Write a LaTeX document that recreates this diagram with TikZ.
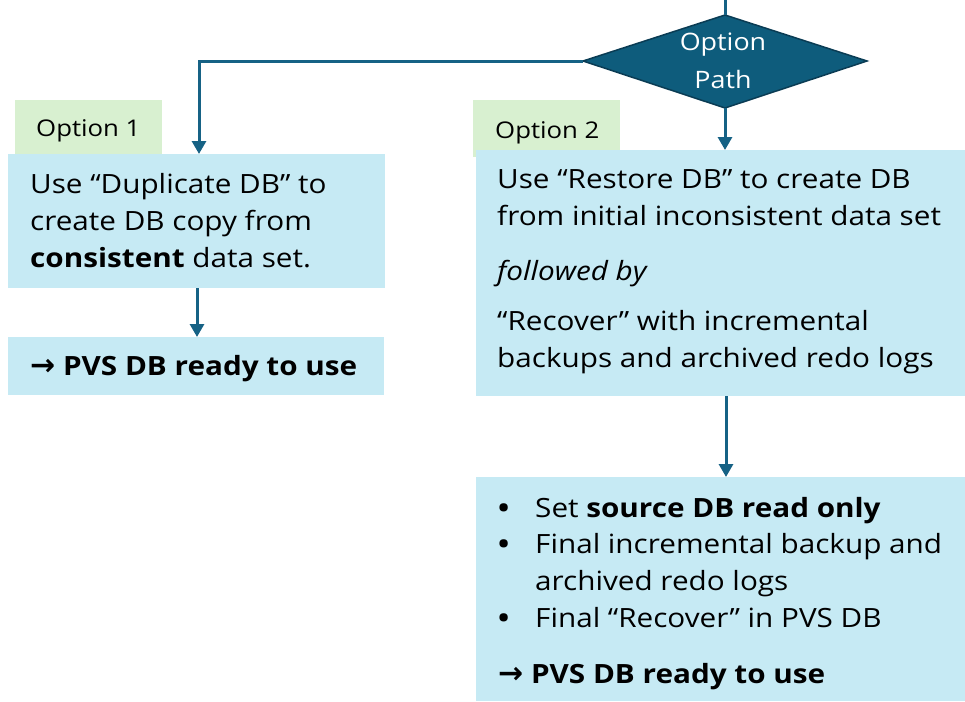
\documentclass[tikz,border=0pt]{standalone}
\usepackage{fontspec}
\setmainfont{Open Sans}[FakeStretch=1.12]
\newfontfamily\arrowfont{DejaVu Sans}
\usetikzlibrary{arrows.meta,shapes.geometric}
\definecolor{boxblue}{RGB}{198,234,244}
\definecolor{labgreen}{RGB}{216,240,208}
\definecolor{arrowc}{RGB}{22,98,133}
\definecolor{diafill}{RGB}{14,92,124}
\definecolor{diadraw}{RGB}{10,60,84}
\newcommand{\rarr}{{\arrowfont\bfseries\fontsize{30}{37}\selectfont →}}
\begin{document}
\begin{tikzpicture}[x=1pt,y=-1pt,
  box/.style={fill=boxblue,draw=none,inner sep=0,anchor=north west},
  lab/.style={fill=labgreen,draw=none,inner sep=0,anchor=north west},
  txt/.style={anchor=base west,inner sep=0,font=\fontsize{26.5}{37}\selectfont},
  labtxt/.style={anchor=base west,inner sep=0,font=\fontsize{23}{30}\selectfont},
  diatxt/.style={anchor=base,inner sep=0,text=white,font=\fontsize{24}{30}\selectfont},
  conn/.style={draw=arrowc,line width=3pt,-{Triangle[width=14pt,length=13pt]}},
  plain/.style={draw=arrowc,line width=3pt}
]
\useasboundingbox (0,0) rectangle (965,701);
% boxes
\node[lab,minimum width=147pt,minimum height=55pt] (lab1) at (15,100) {};
\node[lab,minimum width=147pt,minimum height=57pt] (lab2) at (473,100) {};
\node[box,minimum width=377pt,minimum height=134pt] (box1) at (8,154) {};
\node[box,minimum width=376pt,minimum height=58pt] (box2) at (8,337) {};
\node[box,minimum width=489pt,minimum height=246pt] (box3) at (476,150) {};
\node[box,minimum width=489pt,minimum height=224pt] (box4) at (476,477) {};
% diamond
\coordinate (dtop) at (725,15);
\coordinate (dright) at (867,61);
\coordinate (dbot) at (725,108);
\coordinate (dleft) at (583,61);
\filldraw[fill=diafill,draw=diadraw,line width=1.5pt] (dtop) -- (dright) -- (dbot) -- (dleft) -- cycle;
\coordinate (dstub) at (725,0);
\draw[plain] (dstub) -- (dtop);
\node[diatxt] (dt1) at (723,50) {Option};
\node[diatxt] (dt2) at (723,88) {Path};
% labels
\node[labtxt] (l1) at (36,136) {Option 1};
\node[labtxt] (l2) at (495,138) {Option 2};
% box1 text
\node[txt] (b1a) at (30,193) {Use “Duplicate DB” to};
\node[txt] (b1b) at (30,230) {create DB copy from};
\node[txt] (b1c) at (30,267) {\textbf{consistent} data set.};
% box2 text
\node[txt] (b2a) at (30,375) {\rarr\ \textbf{PVS DB ready to use}};
% box3 text
\node[txt] (b3a) at (497,188) {Use “Restore DB” to create DB};
\node[txt] (b3b) at (497,225) {from initial inconsistent data set};
\node[txt] (b3c) at (497,280) {\itshape followed by};
\node[txt] (b3d) at (497,330) {“Recover” with incremental};
\node[txt] (b3e) at (497,367) {backups and archived redo logs};
% box4 text
\node[txt] (u1) at (498,517) {\textbf{•}};
\node[txt] (u2) at (498,553) {\textbf{•}};
\node[txt] (u3) at (498,627) {\textbf{•}};
\node[txt] (b4a) at (535,517) {Set \textbf{source DB read only}};
\node[txt] (b4b) at (535,553) {Final incremental backup and};
\node[txt] (b4c) at (535,590) {archived redo logs};
\node[txt] (b4d) at (535,627) {Final “Recover” in PVS DB};
\node[txt] (b4e) at (498,683) {\rarr\ \textbf{PVS DB ready to use}};
% connectors
\coordinate (bend) at (199,61);
\draw[conn] (dleft) -- (bend) -- (bend |- box1.north);
\draw[conn] (dbot) -- (dbot |- box3.north);
\draw[conn] (box1.south -| 197,0) -- (box2.north -| 197,0);
\draw[conn] (box3.south -| 726,0) -- (box4.north -| 726,0);
\end{tikzpicture}
\end{document}
